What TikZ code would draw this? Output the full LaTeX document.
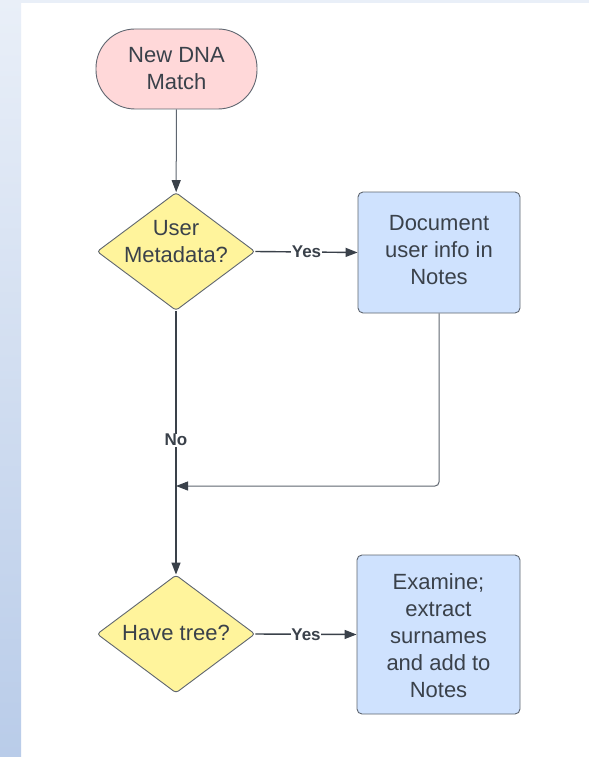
\documentclass[tikz,border=0pt]{standalone}
\usepackage{fontspec}
\setmainfont{Liberation Sans}
\usetikzlibrary{shapes.geometric,arrows.meta}
\definecolor{stripTop}{HTML}{E9EFF8}
\definecolor{stripBot}{HTML}{B9CCE9}
\definecolor{pinkFill}{HTML}{FFD8D9}
\definecolor{yelFill}{HTML}{FFF49C}
\definecolor{blueFill}{HTML}{CFE2FE}
\definecolor{edgeCol}{HTML}{5F6670}
\definecolor{txtCol}{HTML}{3A414A}
\definecolor{lineCol}{HTML}{3A414A}
\tikzset{
  base/.style={draw=edgeCol, line width=0.9pt, align=center, inner sep=0pt, text=txtCol,
    font=\fontsize{22}{27}\selectfont},
  pill/.style={base, fill=pinkFill, rounded corners=39pt, minimum width=161pt, minimum height=80pt},
  dia/.style={base, diamond, fill=yelFill, rounded corners=3pt, minimum width=158pt, minimum height=118pt},
  dtxt/.style={align=center, inner sep=0pt, text=txtCol, font=\fontsize{22}{27}\selectfont},
  box/.style={base, fill=blueFill, rounded corners=5pt},
  arr/.style={draw=lineCol, line width=1.4pt, -{Triangle[length=12pt,width=9pt]}},
  thinarr/.style={draw=edgeCol, line width=1pt, -{Triangle[length=12pt,width=9pt,color=lineCol]}},
  lbl/.style={fill=white, inner sep=0.5pt, text=txtCol, font=\fontsize{17}{20}\selectfont\bfseries}
}
\begin{document}
\begin{tikzpicture}[x=1pt,y=-1pt]
\useasboundingbox (0,0) rectangle (589,757);
\fill[white] (0,0) rectangle (589,757);
\shade[top color=stripTop, bottom color=stripBot] (0,0) rectangle (21,757);
\fill[stripTop] (21,0) rectangle (589,3);

\node[pill] (start) at (176.5,69) {New DNA\\Match};
\node[dia] (q1) at (176,251.5) {};
\node[dtxt] (q1t) at (176,242) {User\\Metadata?};
\node[box, minimum width=162pt, minimum height=121pt] (b1) at (439,252.5) {};
\node[dtxt] (b1t) at (439,250.5) {Document\\user info in\\Notes};
\node[dia] (q2) at (176,634) {};
\node[dtxt] (q2t) at (176,632.5) {Have tree?};
\node[box, minimum width=163pt, minimum height=159pt] (b2) at (438.5,634.5) {};
\node[dtxt] (b2t) at (438.5,636) {Examine;\\extract\\surnames\\and add to\\Notes};
\coordinate (merge) at (176,486);

\draw[thinarr] (start) -- (q1);
\draw[arr] (q1.east) -- node[lbl, pos=0.5] (y1) {Yes} (b1.west);
\draw[arr] (q1.south) -- node[lbl, pos=0.49] (n1) {No} (q2.north);
\draw[thinarr, rounded corners=4pt] (b1.south) |- (merge);
\draw[arr] (q2.east) -- node[lbl, pos=0.5] (y2) {Yes} (b2.west);
\end{tikzpicture}
\end{document}
